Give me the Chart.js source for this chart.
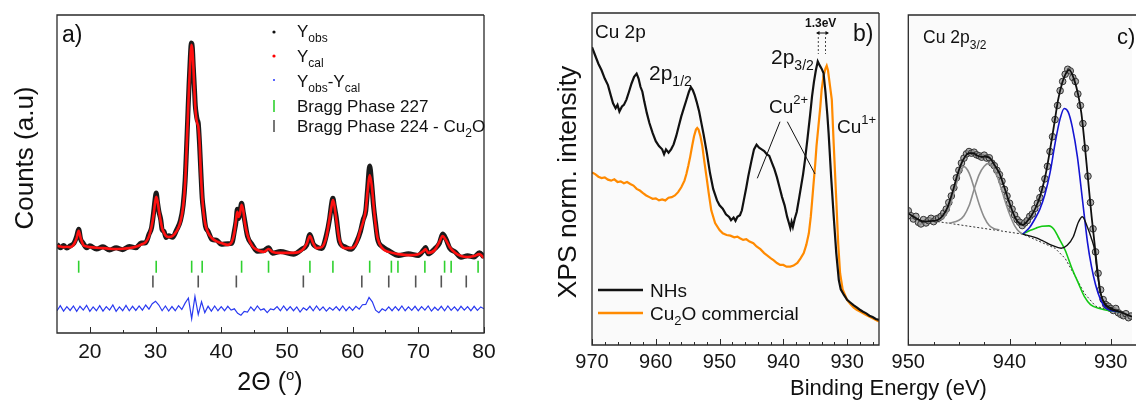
<!DOCTYPE html>
<html><head><meta charset="utf-8">
<script src="https://cdn.jsdelivr.net/npm/chart.js@4.4.1/dist/chart.umd.min.js"></script>
<style>
html,body{margin:0;padding:0;background:#fff;}
#wrap{position:relative;width:1137px;height:402px;overflow:hidden;font-family:"Liberation Sans",Arial,sans-serif;color:#111;}
canvas{position:absolute;top:0;}
.t{position:absolute;line-height:1;white-space:nowrap;}
</style></head><body>
<div id="wrap">
<canvas id="ca" width="500" height="402" style="left:0px;width:500px;height:402px"></canvas>
<canvas id="cb" width="335" height="402" style="left:560px;width:335px;height:402px"></canvas>
<canvas id="cc" width="257" height="402" style="left:880px;width:257px;height:402px"></canvas>
<svg id="ov" width="1137" height="402" style="position:absolute;left:0;top:0">
  <circle cx="274" cy="32" r="1.6" fill="#111"/>
  <circle cx="274" cy="56" r="1.6" fill="#f00"/>
  <circle cx="274" cy="80" r="1" fill="#2233ff"/>
  <line x1="274" y1="100" x2="274" y2="112" stroke="#2fd12f" stroke-width="1.6"/>
  <line x1="274" y1="120" x2="274" y2="132" stroke="#555" stroke-width="1.6"/>
  <line x1="818.3" y1="37" x2="818.3" y2="54" stroke="#444" stroke-width="1" stroke-dasharray="2,2"/>
  <line x1="825.5" y1="37" x2="825.5" y2="54" stroke="#444" stroke-width="1" stroke-dasharray="2,2"/>
  <line x1="817" y1="33" x2="828" y2="33" stroke="#111" stroke-width="1"/>
  <path d="M816,33 L819.5,31 L819.5,35 Z M829,33 L825.5,31 L825.5,35 Z" fill="#111"/>
  <line x1="780" y1="121.7" x2="757.3" y2="178.3" stroke="#111" stroke-width="1"/>
  <line x1="787.3" y1="121.7" x2="815" y2="174" stroke="#111" stroke-width="1"/>
  <line x1="598" y1="290" x2="643" y2="290" stroke="#111" stroke-width="2.4"/>
  <line x1="598" y1="313" x2="643" y2="313" stroke="#ff8a00" stroke-width="2.4"/>
</svg>
</div>
<script>
// ---------- Panel a: XRD ----------
const xrdAngle = [15.0,15.5,16.0,16.5,17.0,17.6,18.0,18.3,18.6,19.0,19.5,20.0,21.0,22.0,23.0,24.0,25.0,26.0,27.0,27.8,28.5,29.0,29.4,29.7,29.9,30.1,30.3,30.5,30.8,31.0,31.3,31.6,32.0,32.6,33.2,33.8,34.2,34.5,34.7,34.9,35.1,35.3,35.45,35.6,35.75,35.9,36.05,36.2,36.35,36.5,36.7,36.9,37.1,37.3,37.6,38.0,38.6,39.3,40.0,41.0,41.6,42.0,42.25,42.45,42.65,42.85,43.1,43.35,43.6,44.0,44.7,45.5,46.5,47.2,47.8,49.0,51.0,52.3,53.0,53.5,54.0,54.5,55.3,56.0,56.5,56.8,57.0,57.2,57.5,58.0,58.8,59.8,60.6,61.2,61.6,62.0,62.3,62.6,62.9,63.2,63.5,63.8,64.5,65.5,67.0,68.5,70.0,70.8,71.1,71.5,72.5,73.2,73.7,74.2,74.8,75.6,76.5,77.5,78.5,79.3,80.0];
const xrdCalc = [27.4,27.2,27.0,27.1,27.0,28.0,29.9,32.1,29.9,27.7,27.2,27.0,26.8,26.7,26.5,26.4,26.5,26.7,27.1,27.8,28.6,30.4,33.5,37.1,40.5,42.8,41.5,38.7,35.0,33.0,31.5,30.5,30.2,30.5,32.0,35.0,39.7,47.0,56.6,67.0,77.5,86.0,90.6,89.0,84.0,77.0,71.0,67.5,66.0,65.0,60.0,50.0,43.0,38.0,34.0,31.5,29.8,28.8,28.3,27.7,28.6,31.5,35.5,38.1,36.5,37.5,40.3,38.5,34.5,30.8,27.4,26.1,25.5,26.4,25.5,25.2,25.2,26.0,28.0,30.5,28.2,26.7,27.0,30.2,36.2,40.0,41.8,40.5,36.0,29.2,26.7,26.7,28.3,32.4,34.9,38.7,45.0,49.7,46.5,40.0,34.0,29.9,26.7,25.5,24.8,24.5,24.8,25.8,26.4,25.2,26.1,28.6,30.5,29.2,27.0,25.2,24.2,23.9,24.2,24.8,23.6];
const xrdObs  = [27.9,26.8,27.5,26.7,27.4,28.3,30.4,32.6,29.5,28.2,26.8,27.4,26.4,27.1,26.1,26.8,26.2,27.2,26.8,28.3,28.4,31.0,33.2,37.8,41.5,44.0,41.0,38.3,35.6,32.5,31.9,30.0,30.6,30.1,32.4,35.4,40.2,47.8,57.0,67.6,78.0,86.8,91.2,89.8,83.5,77.8,71.6,68.8,67.0,66.0,59.4,50.6,42.5,38.6,33.6,32.0,29.4,29.2,27.9,28.1,28.2,32.0,35.0,38.9,36.0,38.0,40.8,38.0,35.0,30.4,27.8,25.7,25.9,26.8,25.1,25.6,24.8,26.4,27.6,31.0,28.0,27.1,26.6,30.7,36.0,40.7,42.4,40.1,36.5,28.8,27.1,26.3,28.7,32.0,35.6,38.4,45.8,52.5,47.0,39.6,34.4,29.6,27.2,25.9,24.4,24.9,24.4,26.1,26.9,24.9,26.5,28.2,31.1,29.6,26.6,25.5,23.8,24.3,23.9,25.2,23.9];
const xrdDiff = [[15,7.0],[15.5,8.6],[16,6.9],[16.5,8.3],[17,7.1],[17.5,8.5],[18,6.8],[18.5,8.4],[19,7.2],[19.5,8.7],[20,6.8],[20.5,8.2],[21,7.0],[21.5,8.6],[22,6.9],[22.5,8.3],[23,7.2],[23.5,8.8],[24,6.8],[24.5,8.2],[25,7.0],[25.5,8.7],[26,7.0],[26.5,8.4],[27,7.1],[27.5,8.5],[28,7.2],[28.5,8.8],[29,7.5],[29.5,9.2],[30,10.0],[30.5,8.8],[31,7.0],[31.5,8.5],[32,6.9],[32.5,8.3],[33,7.0],[33.5,8.6],[34,7.4],[34.5,9.4],[35,11.0],[35.5,4.5],[36,11.5],[36.5,5.8],[37,9.8],[37.5,6.4],[38,8.4],[38.5,6.9],[39,8.5],[39.5,7.0],[40,8.3],[40.5,7.0],[41,8.4],[41.5,7.2],[42,7.6],[42.5,6.2],[43,5.6],[43.5,6.8],[44,6.6],[44.5,8.2],[45,7.0],[45.5,8.5],[46,7.2],[46.5,7.6],[47,6.4],[47.5,7.6],[48,7.3],[48.5,8.3],[49,7.0],[49.5,8.5],[50,7.1],[50.5,8.3],[51,7.0],[51.5,8.2],[52,6.6],[52.5,7.9],[53,7.2],[53.5,8.4],[54,7.0],[54.5,8.5],[55,7.1],[55.5,8.2],[56,6.9],[56.5,8.0],[57,7.2],[57.5,8.3],[58,7.1],[58.5,8.5],[59,7.0],[59.5,8.2],[60,7.1],[60.5,8.4],[61,7.5],[61.5,8.9],[62,9.0],[62.5,11.2],[63,9.8],[63.5,7.2],[64,6.4],[64.5,7.6],[65,7.0],[65.5,8.2],[66,7.0],[66.5,8.3],[67,7.1],[67.5,8.5],[68,7.0],[68.5,8.2],[69,7.1],[69.5,8.4],[70,7.0],[70.5,8.3],[71,7.2],[71.5,8.5],[72,6.9],[72.5,8.1],[73,7.1],[73.5,8.4],[74,7.0],[74.5,8.5],[75,7.1],[75.5,8.2],[76,7.0],[76.5,8.4],[77,7.2],[77.5,8.3],[78,7.0],[78.5,8.4],[79,7.1],[79.5,8.2],[80,7.6]];
const braggPhase227 = [18.3,30.1,35.5,37.1,43.1,47.2,53.5,57.0,62.6,65.9,66.9,71.0,74.0,75.0,79.1];
const braggPhase224 = [29.6,36.5,42.3,52.5,61.4,65.5,69.6,73.5,77.3];
const xrdTickLabels = [20,30,40,50,60,70,80];

// ---------- Panel b: XPS survey Cu 2p ----------
const nhs = [[970.0,89.5],[969.5,87.0],[969.0,84.5],[968.5,82.5],[968.0,80.0],[967.5,78.0],[967.0,74.5],[966.7,72.5],[966.3,71.0],[966.0,72.0],[965.7,70.0],[965.3,71.5],[965.0,72.0],[964.6,73.6],[964.2,76.0],[963.8,78.5],[963.4,80.5],[963.0,81.5],[962.7,80.0],[962.4,77.5],[962.1,76.0],[961.8,73.0],[961.4,69.5],[961.0,66.5],[960.5,63.5],[960.0,61.0],[959.5,59.5],[959.0,58.5],[958.7,57.0],[958.4,58.5],[958.0,57.5],[957.6,58.5],[957.2,60.0],[956.8,62.5],[956.4,65.5],[956.0,68.5],[955.6,71.0],[955.2,73.5],[954.8,76.0],[954.5,77.4],[954.2,76.5],[953.9,75.0],[953.6,73.0],[953.2,70.0],[952.8,66.0],[952.5,63.0],[952.0,57.5],[951.5,51.3],[951.0,46.5],[950.4,43.0],[950.0,41.5],[949.5,40.5],[949.0,38.8],[948.5,38.0],[948.2,37.0],[947.8,37.8],[947.5,36.8],[947.2,38.0],[946.8,38.5],[946.5,40.0],[946.2,43.0],[945.8,47.0],[945.5,50.3],[945.0,55.0],[944.6,58.5],[944.2,59.9],[943.8,59.0],[943.4,58.5],[943.0,58.0],[942.6,57.0],[942.2,56.5],[941.8,54.5],[941.4,52.5],[941.0,50.0],[940.6,47.0],[940.2,44.0],[939.8,41.5],[939.4,38.0],[939.1,36.0],[938.9,34.6],[938.7,36.5],[938.5,35.0],[938.2,37.5],[937.9,39.5],[937.5,44.0],[937.2,47.5],[936.9,51.0],[936.6,55.3],[936.2,62.0],[935.8,69.0],[935.5,74.6],[935.2,79.0],[934.9,82.5],[934.6,85.2],[934.3,84.0],[934.0,83.0],[933.7,81.7],[933.4,76.0],[933.1,69.0],[932.9,63.4],[932.5,50.0],[932.1,38.1],[931.7,27.0],[931.3,18.8],[931.0,16.0],[930.5,14.3],[930.0,12.8],[929.5,12.0],[929.0,11.2],[928.5,10.5],[928.0,9.8],[927.5,9.2],[927.0,8.7],[926.5,8.0],[926.0,7.6],[925.5,7.0],[925.0,6.7]];
const cu2oCommercial = [[970.0,51.5],[969.5,51.0],[969.0,50.2],[968.5,49.8],[968.0,50.0],[967.5,49.3],[967.0,49.0],[966.5,49.4],[966.0,48.6],[965.5,48.8],[965.0,48.2],[964.5,48.6],[964.0,48.0],[963.5,47.5],[963.0,46.5],[962.5,46.0],[962.0,45.2],[961.5,44.5],[961.0,44.0],[960.5,43.5],[960.0,43.6],[959.5,43.0],[959.0,43.3],[958.5,43.0],[958.0,43.8],[957.5,44.0],[957.0,44.5],[956.5,45.5],[956.0,47.0],[955.5,49.0],[955.2,51.0],[954.9,53.5],[954.6,56.3],[954.3,59.5],[954.0,62.5],[953.7,64.5],[953.5,65.0],[953.3,64.5],[953.0,62.5],[952.7,59.5],[952.4,55.0],[952.0,49.5],[951.7,45.2],[951.3,40.0],[950.7,36.1],[950.0,34.0],[949.5,33.0],[948.9,32.5],[948.3,32.3],[947.7,31.8],[947.2,32.0],[946.8,31.5],[946.3,31.0],[945.8,31.2],[945.3,30.5],[944.7,30.0],[944.2,29.0],[943.6,28.2],[943.0,27.0],[942.6,26.4],[942.0,25.5],[941.5,24.8],[941.0,24.0],[940.5,23.4],[940.0,23.4],[939.5,22.9],[938.9,22.9],[938.4,23.2],[937.8,24.0],[937.3,25.4],[936.8,27.0],[936.4,29.5],[936.0,33.0],[935.7,38.0],[935.5,42.5],[935.3,47.2],[935.0,54.0],[934.8,59.5],[934.5,65.5],[934.2,71.5],[934.0,76.5],[933.7,80.7],[933.4,83.0],[933.2,83.9],[933.0,82.5],[932.7,78.0],[932.4,73.6],[932.1,60.0],[931.7,43.2],[931.4,30.0],[931.1,20.9],[930.7,16.0],[930.0,12.8],[929.5,11.5],[929.0,10.5],[928.5,9.8],[927.9,9.2],[927.0,8.2],[926.0,7.2],[925.0,6.2]];
const xpsTickLabels = [970,960,950,940,930];

// ---------- Panel c: Cu 2p3/2 fit ----------
const fitObs = [[950.0,40.5],[949.75,39.0],[949.5,38.0],[949.25,38.8],[949.0,37.0],[948.75,36.5],[948.5,37.8],[948.25,36.8],[948.0,37.5],[947.75,38.2],[947.5,37.2],[947.25,38.0],[947.0,38.3],[946.75,38.8],[946.5,39.8],[946.25,41.0],[946.0,43.0],[945.75,45.0],[945.5,47.5],[945.25,50.5],[945.0,52.8],[944.75,55.0],[944.5,56.5],[944.25,57.8],[944.0,58.5],[943.75,58.0],[943.5,58.3],[943.25,57.5],[943.0,57.2],[942.75,56.8],[942.5,57.4],[942.25,56.5],[942.0,56.6],[941.75,55.0],[941.5,54.2],[941.25,52.8],[941.0,51.5],[940.75,49.5],[940.5,47.0],[940.25,45.0],[940.0,42.8],[939.75,41.0],[939.5,39.2],[939.25,37.8],[939.0,37.0],[938.75,36.0],[938.5,36.8],[938.25,37.5],[938.0,38.8],[937.75,39.5],[937.5,41.2],[937.25,42.8],[937.0,44.5],[936.75,47.0],[936.5,50.2],[936.25,54.0],[936.0,58.5],[935.75,63.0],[935.5,68.2],[935.25,72.5],[935.0,77.0],[934.75,79.8],[934.5,82.0],[934.25,83.5],[934.0,83.0],[933.75,81.0],[933.5,79.8],[933.25,76.0],[933.0,72.5],[932.75,67.0],[932.5,59.5],[932.25,51.0],[932.0,43.0],[931.75,35.0],[931.5,28.0],[931.25,21.5],[931.0,16.5],[930.75,13.5],[930.5,12.0],[930.25,11.5],[930.0,10.8],[929.75,10.2],[929.5,10.8],[929.25,9.5],[929.0,9.0],[928.75,8.6],[928.5,9.2],[928.25,8.0],[928.0,8.5]];
const fitEnvelope = [[950.0,39.7],[949.0,37.8],[948.4,37.2],[947.6,37.4],[947.1,37.7],[946.6,39.0],[946.1,41.7],[945.6,46.5],[945.2,50.9],[944.8,54.5],[944.4,56.9],[944.0,58.0],[943.6,58.0],[943.2,57.3],[942.8,56.9],[942.4,57.0],[941.9,56.4],[941.5,54.5],[941.0,51.9],[940.5,47.5],[940.0,42.8],[939.6,39.5],[939.2,37.2],[938.7,36.2],[938.2,37.5],[937.7,39.7],[937.2,43.0],[936.8,46.8],[936.4,52.0],[936.0,59.0],[935.6,66.5],[935.2,74.2],[934.8,79.3],[934.5,81.8],[934.1,83.3],[933.6,80.2],[933.2,75.5],[932.9,70.1],[932.6,61.5],[932.3,51.9],[931.9,39.0],[931.6,30.6],[931.3,22.0],[931.0,15.4],[930.5,12.0],[930.0,10.9],[929.1,9.8],[927.9,8.3]];
const fitCu2pA = [[947.1,37.6],[946.5,38.5],[946.0,41.0],[945.5,46.0],[945.0,51.0],[944.5,53.9],[944.0,52.0],[943.5,47.5],[943.0,42.5],[942.5,38.5],[942.0,36.0],[941.5,35.0],[941.0,34.7]];
const fitCu2pB = [[946.0,36.7],[945.0,37.6],[944.5,39.0],[944.0,42.0],[943.5,47.0],[943.0,51.5],[942.5,54.0],[942.1,54.9],[941.5,53.0],[941.0,49.0],[940.5,44.0],[940.0,39.5],[939.5,36.0],[939.0,34.0],[938.7,33.4]];
const fitMain = [[938.7,33.4],[938.0,35.5],[937.5,38.0],[937.0,41.0],[936.5,45.5],[936.0,52.0],[935.5,61.0],[935.0,68.5],[934.6,71.6],[934.2,70.5],[933.8,66.0],[933.3,57.0],[932.8,44.0],[932.3,31.0],[931.9,23.5],[931.5,18.0],[931.0,13.4],[930.5,11.0],[930.0,10.2],[929.1,9.8]];
const fitSatellite = [[938.7,33.4],[938.0,34.5],[937.4,35.2],[936.8,35.8],[936.1,35.9],[935.6,34.8],[935.2,32.6],[934.5,28.5],[933.9,23.5],[933.2,18.5],[932.6,14.4],[932.0,12.0],[931.0,10.7],[930.0,10.1],[929.1,9.8]];
const fitCu1 = [[938.7,33.4],[937.5,32.4],[936.8,31.5],[935.8,30.0],[934.9,29.1],[934.3,30.0],[933.7,32.6],[933.2,37.0],[932.8,38.7],[932.3,35.5],[931.9,32.0],[931.6,28.6],[931.3,21.0],[931.0,15.4],[930.6,12.0],[930.0,10.5],[929.1,9.8]];
const fitBackground = [[947.1,37.2],[938.7,33.4],[935.5,29.1],[934.5,26.0],[933.5,20.5],[932.6,15.4],[931.5,11.5],[930.0,10.2],[929.1,9.8]];
const fitTickLabels = [950,940,930];

// ---------- helpers ----------
const FONT = '"Liberation Sans", Arial, sans-serif';
const pairs = a => a.map(p => ({x:p[0], y:p[1]}));

const framePlugin = {
  id:'frame',
  beforeDatasetsDraw(chart, args, o){
    if(!o.bg) return;
    const {ctx, chartArea:c} = chart;
    ctx.save(); ctx.fillStyle=o.bg; ctx.fillRect(c.left,c.top,c.right-c.left,c.bottom-c.top); ctx.restore();
  },
  afterDatasetsDraw(chart, args, o){
    const {ctx, chartArea:c} = chart; const x = chart.scales.x;
    ctx.save();
    ctx.strokeStyle='#2a2a2a'; ctx.lineWidth=1.3;
    const r = o.openRight ? c.right+4 : c.right;
    ctx.beginPath();
    ctx.moveTo(r, c.top); ctx.lineTo(c.left, c.top); ctx.lineTo(c.left, c.bottom); ctx.lineTo(r, c.bottom);
    if(!o.openRight) ctx.lineTo(c.right, c.top);
    ctx.stroke();
    ctx.lineWidth=1;
    ctx.beginPath();
    (o.major||[]).forEach(v=>{const p=Math.round(x.getPixelForValue(v))+0.5; ctx.moveTo(p,c.bottom); ctx.lineTo(p,c.bottom-o.majLen);});
    (o.minor||[]).forEach(v=>{const p=Math.round(x.getPixelForValue(v))+0.5; ctx.moveTo(p,c.bottom); ctx.lineTo(p,c.bottom-o.minLen);});
    ctx.stroke();
    ctx.restore();
  }
};

function xAxis(min, max, rev, labels, size, pad, h){
  return {type:'linear', min, max, reverse:rev,
    afterFit(s){ s.height = h; },
    afterBuildTicks(s){ s.ticks = labels.map(v=>({value:v})); },
    grid:{display:false}, border:{display:false},
    ticks:{autoSkip:false, maxRotation:0, padding:pad, color:'#151515', font:{family:FONT, size}}};
}
const common = {responsive:false, animation:false, events:[]};

// Panel a
new Chart(document.getElementById('ca'), {
  type:'line',
  data:{datasets:[
    {data: xrdAngle.map((x,i)=>({x, y:xrdObs[i]})), borderColor:'#1b1b1b', borderWidth:5, pointRadius:0, cubicInterpolationMode:'monotone', order:5},
    {data: xrdAngle.map((x,i)=>({x, y:xrdCalc[i]})), borderColor:'#ff1010', borderWidth:2.6, pointRadius:0, cubicInterpolationMode:'monotone', order:4},
    {data: pairs(xrdDiff), borderColor:'#2a3af0', borderWidth:1.2, pointRadius:0, order:3},
    {type:'scatter', data: braggPhase227.map(x=>({x, y:20.85})), pointStyle:'line', pointRotation:90, pointRadius:6, pointBorderColor:'#2fd12f', borderColor:'#2fd12f', pointBorderWidth:1.6, order:2},
    {type:'scatter', data: braggPhase224.map(x=>({x, y:16.2})), pointStyle:'line', pointRotation:90, pointRadius:6, pointBorderColor:'#555', borderColor:'#555', pointBorderWidth:1.6, order:1}
  ]},
  options:{...common, layout:{padding:{left:57, top:15, right:16, bottom:0}},
    plugins:{legend:{display:false}, tooltip:{enabled:false},
      frame:{major:[20,30,40,50,60,70,80], minor:[25,35,45,55,65,75], majLen:6, minLen:3}},
    scales:{x: xAxis(15, 80, false, xrdTickLabels, 21, -1, 69), y:{display:false, min:0, max:100}}},
  plugins:[framePlugin]
});

// Panel b
new Chart(document.getElementById('cb'), {
  type:'line',
  data:{datasets:[
    {data: pairs(nhs), borderColor:'#111', borderWidth:2.2, pointRadius:0, tension:0, order:1},
    {data: pairs(cu2oCommercial), borderColor:'#ff8a00', borderWidth:2.2, pointRadius:0, tension:0, order:2}
  ]},
  options:{...common, layout:{padding:{left:32, top:13, right:16, bottom:0}},
    plugins:{legend:{display:false}, tooltip:{enabled:false},
      frame:{bg:'#fafafa', major:[970,960,950,940,930], minor:[968,966,964,962,958,956,954,952,948,946,944,942,938,936,934,932,928,926], majLen:6, minLen:3}},
    scales:{x: xAxis(925, 970, true, xpsTickLabels, 20, -3, 57), y:{display:false, min:-0.9, max:99.9}}},
  plugins:[framePlugin]
});

// Panel c
new Chart(document.getElementById('cc'), {
  type:'line',
  data:{datasets:[
    {type:'scatter', data: pairs(fitObs), pointRadius:3.3, pointBackgroundColor:'rgba(150,150,150,0.75)', pointBorderColor:'#333', pointBorderWidth:1, order:9},
    {data: pairs(fitBackground), borderColor:'#333', borderWidth:1, borderDash:[2,2], pointRadius:0, tension:0, order:7},
    {data: pairs(fitCu2pA), borderColor:'#8c8c8c', borderWidth:1.6, pointRadius:0, cubicInterpolationMode:'monotone', order:6},
    {data: pairs(fitCu2pB), borderColor:'#8c8c8c', borderWidth:1.6, pointRadius:0, cubicInterpolationMode:'monotone', order:6},
    {data: pairs(fitSatellite), borderColor:'#14c814', borderWidth:1.6, pointRadius:0, cubicInterpolationMode:'monotone', order:5},
    {data: pairs(fitMain), borderColor:'#1414d2', borderWidth:1.6, pointRadius:0, cubicInterpolationMode:'monotone', order:4},
    {data: pairs(fitCu1), borderColor:'#111', borderWidth:1.4, pointRadius:0, cubicInterpolationMode:'monotone', order:3},
    {data: pairs(fitEnvelope), borderColor:'#111', borderWidth:1.8, pointRadius:0, cubicInterpolationMode:'monotone', order:1}
  ]},
  options:{...common, layout:{padding:{left:28.3, top:15, right:0, bottom:0}},
    plugins:{legend:{display:false}, tooltip:{enabled:false},
      frame:{bg:'#fafafa', openRight:true, major:[950,940,930], minor:[947.5,945,942.5,937.5,935,932.5], majLen:6, minLen:3}},
    scales:{x: xAxis(927.9, 950, true, fitTickLabels, 20, -3, 57), y:{display:false, min:-0.3, max:100}}},
  plugins:[framePlugin]
});

// ---------- text ----------
const wrap = document.getElementById('wrap');
function T(html, x, base, size, extra){
  const d = document.createElement('div'); d.className='t'; d.innerHTML = html;
  d.style.left = x+'px'; d.style.top = (base - 0.8465*size)+'px'; d.style.fontSize = size+'px';
  if(extra) Object.assign(d.style, extra);
  wrap.appendChild(d); return d;
}
function R(html, cx, cy, size){
  const d = document.createElement('div'); d.className='t'; d.innerHTML = html;
  d.style.left = cx+'px'; d.style.top = cy+'px'; d.style.fontSize = size+'px';
  d.style.transform = 'translate(-50%,-50%) rotate(-90deg)';
  wrap.appendChild(d);
}
const sub = (t,s,dy) => `<span style="font-size:${s}px;position:relative;top:${dy}px">${t}</span>`;

// panel a
T('a)', 62, 42, 23);
T('Y'+sub('obs',12,5), 297, 37, 17);
T('Y'+sub('cal',12,5), 297, 62, 17);
T('Y'+sub('obs',12,5)+'-Y'+sub('cal',12,5), 297, 87, 17);
T('Bragg Phase 227', 297, 112, 17);
T('Bragg Phase 224 - Cu'+sub('2',12,5)+'O', 297, 132, 17);
R('Counts (a.u)', 24, 158, 26);
T('2Θ (<span style="font-size:15px;position:relative;top:-10px">o</span>)', 270, 390, 25, {transform:'translateX(-50%)'});

// panel b
T('Cu 2p', 595, 38.5, 19);
T('b)', 853, 41, 23);
T('1.3eV', 805, 27, 12, {fontWeight:'bold'});
T('2p'+sub('3/2',14,6), 771, 64, 21);
T('2p'+sub('1/2',14,6), 649, 80, 21);
T('Cu'+sub('2+',13,-9), 769, 113, 19);
T('Cu'+sub('1+',13,-9), 837, 133, 19);
T('NHs', 650, 297, 19);
T('Cu'+sub('2',13,5)+'O commercial', 650, 320, 19);
R('XPS norm. intensity', 567, 182, 26.5);
T('Binding Energy (eV)', 790, 396, 22);

// panel c
T('Cu 2p'+sub('3/2',12,6), 923, 44, 17.5);
T('c)', 1117, 45, 22);
</script>
</body></html>
